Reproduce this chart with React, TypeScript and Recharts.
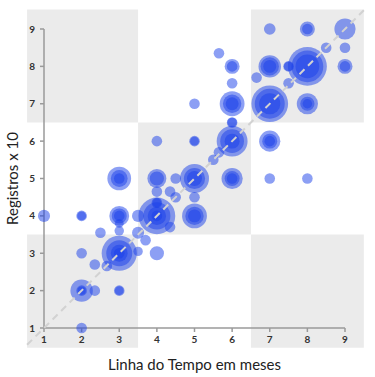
import { ScatterChart, Scatter, XAxis, YAxis, ZAxis, ReferenceArea, ReferenceLine } from 'recharts';

// tick labels (months on x, records x10 on y)
const xTicks = [1, 2, 3, 4, 5, 6, 7, 8, 9];
const yTicks = [1, 2, 3, 4, 5, 6, 7, 8, 9];

// bubbles: stacked circles at the same point give the darker cores
const bubbleX = [
    2, 2, 2, 2, 2.35, 3, 3, 2, 2.35, 2.67,
    3, 3, 3, 3, 3.5, 4, 2.5, 3, 3, 3.5, 3.7,
    1, 2, 2, 3, 3, 3, 3.5,
    4, 4, 4, 4, 4, 4, 4.35, 4, 4.35, 4.5, 5,
    5, 5, 5, 3, 3, 3, 4, 4, 4.5,
    5, 5, 5, 6, 6, 6, 7, 8, 5.5, 5.65,
    4, 5, 5, 6, 6, 6, 7, 7, 7, 6, 6,
    5, 6, 6, 6, 7, 7, 7, 8, 8, 8,
    6, 6.65, 7.5, 5.65, 6, 6, 7, 7, 7, 7.5, 7.5,
    8, 8, 8, 9, 9, 8.5, 9, 7, 8, 8, 9,
];
const bubbleY = [
    1, 2, 2, 2, 2, 2, 2, 3, 2.7, 2.66,
    3, 3, 3, 3, 3.05, 3, 3.55, 3.6, 3.8, 3.55, 3.35,
    4, 4, 4, 4, 4, 4, 4,
    4, 4, 4, 4, 4.35, 4.35, 3.7, 4.65, 4.65, 4.5, 4.5,
    4, 4, 4, 5, 5, 5, 5, 5, 5,
    5, 5, 5, 5, 5, 5, 5, 5, 5.5, 5.7,
    6, 6, 6, 6, 6, 6, 6, 6, 6, 6.5, 6.5,
    7, 7, 7, 7, 7, 7, 7, 7, 7, 7,
    7.55, 7.7, 7.55, 8.35, 8, 8, 8, 8, 8, 8, 8,
    8, 8, 8, 8, 8, 8.5, 8.5, 9, 9, 9, 9,
];
const bubbleZ = [
    1, 4.5, 1, 0.6, 1, 1, 0.7, 1, 1, 1,
    11, 6, 2.5, 1, 0.8, 1.8, 1, 0.8, 0.7, 1.3, 1,
    1.3, 1, 0.7, 3.5, 2, 1, 1.3,
    12, 6.5, 3, 1, 1, 0.7, 1, 1, 1, 1, 1,
    5.5, 3, 1.5, 5, 2.5, 1, 3.2, 1.8, 1,
    7.5, 4, 2, 4, 2, 1, 1, 1, 1, 1,
    1, 1, 0.7, 8.5, 5, 2, 4, 2, 1, 1, 0.8,
    1, 5.5, 3, 1.5, 12, 8, 4, 4, 1.8, 0.8,
    1, 1, 1, 1, 2, 1, 4.5, 3, 1.5, 1, 0.8,
    13.5, 9, 5, 2, 1, 1, 1, 1.2, 2, 1, 4,
];

const bubbles = bubbleX.map((x, i) => ({ x, y: bubbleY[i], z: bubbleZ[i] }));

const font = 'Lato, "Open Sans", sans-serif';
const tickStyle = { fontSize: 10, fontWeight: 700, fill: '#333', fontFamily: font };
const areaFill = '#ebebeb';

export default function App() {
    return (
        <div style={{ position: 'absolute', left: 0, top: 0, background: '#fff' }}>
            <ScatterChart width={375} height={377} margin={{ top: 29, right: 30, bottom: 0, left: 0 }}>
                {/* checkerboard background blocks */}
                <ReferenceArea x1={0.55} x2={3.5} y1={6.5} y2={9.52} fill={areaFill} fillOpacity={1} ifOverflow="visible" />
                <ReferenceArea x1={6.5} x2={9.5} y1={6.5} y2={9.52} fill={areaFill} fillOpacity={1} ifOverflow="visible" />
                <ReferenceArea x1={3.5} x2={6.5} y1={3.5} y2={6.5} fill={areaFill} fillOpacity={1} ifOverflow="visible" />
                <ReferenceArea x1={0.55} x2={3.5} y1={0.47} y2={3.5} fill={areaFill} fillOpacity={1} ifOverflow="visible" />
                <ReferenceArea x1={6.5} x2={9.5} y1={0.47} y2={3.5} fill={areaFill} fillOpacity={1} ifOverflow="visible" />
                <XAxis
                    type="number"
                    dataKey="x"
                    domain={[1, 9]}
                    ticks={xTicks}
                    height={49}
                    tickSize={4}
                    tickMargin={4}
                    stroke="#9a9a9a"
                    strokeWidth={1.5}
                    tick={tickStyle}
                    label={{
                        content: ({ viewBox }: any) => (
                            <text x={viewBox.x + viewBox.width / 2} y={370} textAnchor="middle"
                                style={{ fontSize: 15, fill: '#222', fontFamily: font }}>
                                Linha do Tempo em meses
                            </text>
                        ),
                    }}
                />
                <YAxis
                    type="number"
                    dataKey="y"
                    domain={[1, 9]}
                    ticks={yTicks}
                    width={44}
                    tickSize={4}
                    tickMargin={5}
                    stroke="#9a9a9a"
                    strokeWidth={1.5}
                    tick={tickStyle}
                    label={{
                        content: ({ viewBox }: any) => {
                            const cy = viewBox.y + viewBox.height / 2;
                            return (
                                <text x={18} y={cy} textAnchor="middle" transform={`rotate(-90 18 ${cy})`}
                                    style={{ fontSize: 15, fill: '#222', fontFamily: font }}>
                                    Registros x 10
                                </text>
                            );
                        },
                    }}
                />
                <ZAxis type="number" dataKey="z" domain={[0, 16]} range={[0, 1412]} />
                <Scatter data={bubbles} fill="#1a3fea" fillOpacity={0.5} isAnimationActive={false} />
                {/* dashed diagonal, on top of the bubbles */}
                <ReferenceLine
                    segment={[{ x: 0.55, y: 0.55 }, { x: 9.5, y: 9.5 }]}
                    stroke="#d2d2d2"
                    strokeWidth={2}
                    strokeDasharray="7 5"
                    ifOverflow="visible"
                    zIndex={900}
                />
            </ScatterChart>
        </div>
    );
}
